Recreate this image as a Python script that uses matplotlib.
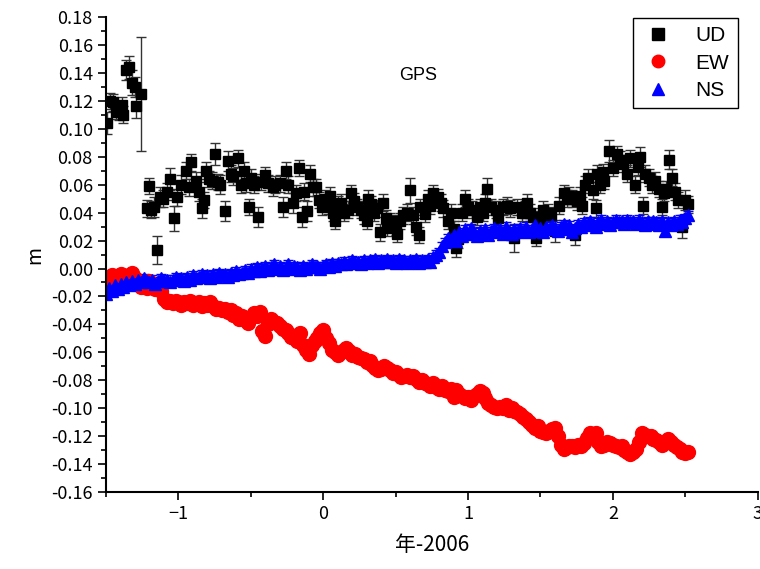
import matplotlib
matplotlib.use('Agg')
import matplotlib.pyplot as plt
from matplotlib.lines import Line2D
from matplotlib.ticker import MultipleLocator, FormatStrFormatter

plt.rcParams['font.family'] = ['Liberation Sans Narrow', 'Noto Sans CJK JP', 'DejaVu Sans']

# UD (垂直)
ud_t = [-1.49, -1.47, -1.45, -1.43, -1.41, -1.39, -1.38, -1.36, -1.34, -1.32,
        -1.30, -1.29, -1.26, -1.22, -1.20, -1.19, -1.17, -1.15, -1.13, -1.11,
        -1.08, -1.06, -1.03, -1.01, -0.98, -0.95, -0.93, -0.91, -0.88, -0.86,
        -0.84, -0.82, -0.81, -0.79, -0.77, -0.75, -0.73, -0.71, -0.68, -0.66,
        -0.64, -0.62, -0.59, -0.57, -0.55, -0.53, -0.51, -0.50, -0.48, -0.45,
        -0.43, -0.40, -0.38, -0.35, -0.33, -0.30, -0.28, -0.26, -0.24, -0.21,
        -0.19, -0.17, -0.15, -0.13, -0.11, -0.09, -0.07, -0.05, -0.03, -0.01,
        0.01, 0.03, 0.05, 0.07, 0.08, 0.10, 0.12, 0.14, 0.17, 0.19,
        0.21, 0.23, 0.26, 0.28, 0.30, 0.31, 0.33, 0.35, 0.37, 0.39,
        0.41, 0.43, 0.44, 0.46, 0.48, 0.50, 0.51, 0.53, 0.55, 0.58,
        0.60, 0.62, 0.64, 0.66, 0.67, 0.70, 0.72, 0.74, 0.76, 0.79,
        0.81, 0.83, 0.86, 0.88, 0.90, 0.92, 0.93, 0.96, 0.98, 1.00,
        1.03, 1.06, 1.08, 1.10, 1.12, 1.13, 1.16, 1.19, 1.21, 1.24,
        1.27, 1.29, 1.32, 1.34, 1.37, 1.39, 1.41, 1.43, 1.45, 1.47,
        1.50, 1.52, 1.55, 1.57, 1.60, 1.63, 1.66, 1.68, 1.70, 1.72,
        1.74, 1.75, 1.77, 1.79, 1.81, 1.83, 1.86, 1.88, 1.89, 1.91,
        1.93, 1.94, 1.97, 2.00, 2.03, 2.05, 2.07, 2.10, 2.12, 2.15,
        2.17, 2.19, 2.21, 2.22, 2.25, 2.27, 2.29, 2.32, 2.34, 2.35,
        2.37, 2.39, 2.41, 2.43, 2.45, 2.48, 2.50, 2.52]
ud = [0.104, 0.120, 0.119, 0.112, 0.113, 0.117, 0.110, 0.142, 0.144, 0.133,
      0.130, 0.116, 0.125, 0.043, 0.059, 0.042, 0.044, 0.013, 0.051, 0.050,
      0.055, 0.064, 0.036, 0.051, 0.060, 0.070, 0.058, 0.076, 0.063, 0.055,
      0.043, 0.049, 0.070, 0.064, 0.063, 0.082, 0.062, 0.060, 0.041, 0.077,
      0.068, 0.066, 0.079, 0.060, 0.070, 0.061, 0.044, 0.065, 0.060, 0.037,
      0.062, 0.067, 0.061, 0.058, 0.060, 0.061, 0.044, 0.070, 0.060, 0.047,
      0.054, 0.072, 0.037, 0.055, 0.041, 0.068, 0.058, 0.058, 0.049, 0.044,
      0.050, 0.045, 0.052, 0.040, 0.034, 0.046, 0.047, 0.040, 0.042, 0.054,
      0.048, 0.044, 0.042, 0.038, 0.034, 0.050, 0.046, 0.040, 0.043, 0.026,
      0.047, 0.036, 0.029, 0.034, 0.032, 0.030, 0.025, 0.034, 0.038, 0.040,
      0.056, 0.038, 0.030, 0.024, 0.044, 0.039, 0.050, 0.045, 0.054, 0.051,
      0.047, 0.043, 0.034, 0.040, 0.028, 0.015, 0.021, 0.040, 0.050, 0.044,
      0.042, 0.037, 0.044, 0.040, 0.047, 0.057, 0.044, 0.042, 0.036, 0.044,
      0.045, 0.043, 0.022, 0.044, 0.040, 0.042, 0.047, 0.040, 0.037, 0.022,
      0.035, 0.042, 0.040, 0.038, 0.027, 0.045, 0.054, 0.050, 0.052, 0.050,
      0.024, 0.048, 0.052, 0.045, 0.060, 0.065, 0.056, 0.043, 0.068, 0.060,
      0.069, 0.063, 0.084, 0.072, 0.082, 0.078, 0.075, 0.068, 0.079, 0.060,
      0.073, 0.080, 0.045, 0.068, 0.065, 0.060, 0.063, 0.057, 0.044, 0.054,
      0.057, 0.078, 0.065, 0.055, 0.049, 0.030, 0.049, 0.046]
ud_err = [0.008, 0.006, 0.006, 0.005, 0.007, 0.006, 0.006, 0.007, 0.008, 0.009,
          0.007, 0.008, 0.041, 0.006, 0.006, 0.006, 0.007, 0.010, 0.007, 0.006,
          0.006, 0.008, 0.009, 0.006, 0.007, 0.006, 0.006, 0.006, 0.006, 0.007,
          0.007, 0.006, 0.006, 0.006, 0.006, 0.008, 0.006, 0.007, 0.007, 0.007,
          0.006, 0.006, 0.006, 0.006, 0.006, 0.006, 0.006, 0.006, 0.006, 0.007,
          0.006, 0.006, 0.006, 0.006, 0.006, 0.006, 0.007, 0.006, 0.006, 0.007,
          0.006, 0.006, 0.007, 0.006, 0.007, 0.006, 0.006, 0.006, 0.006, 0.006,
          0.006, 0.006, 0.006, 0.006, 0.006, 0.006, 0.006, 0.006, 0.006, 0.006,
          0.006, 0.006, 0.006, 0.006, 0.006, 0.006, 0.006, 0.006, 0.006, 0.006,
          0.006, 0.006, 0.006, 0.006, 0.006, 0.006, 0.006, 0.006, 0.006, 0.006,
          0.009, 0.006, 0.006, 0.006, 0.006, 0.006, 0.006, 0.006, 0.006, 0.006,
          0.006, 0.006, 0.006, 0.006, 0.006, 0.007, 0.006, 0.006, 0.006, 0.006,
          0.006, 0.006, 0.006, 0.006, 0.006, 0.008, 0.006, 0.006, 0.006, 0.006,
          0.006, 0.006, 0.010, 0.006, 0.006, 0.006, 0.006, 0.006, 0.006, 0.006,
          0.006, 0.006, 0.006, 0.006, 0.008, 0.006, 0.006, 0.006, 0.006, 0.006,
          0.007, 0.006, 0.006, 0.006, 0.006, 0.006, 0.006, 0.006, 0.006, 0.006,
          0.006, 0.006, 0.008, 0.006, 0.006, 0.006, 0.006, 0.006, 0.006, 0.006,
          0.006, 0.007, 0.006, 0.006, 0.006, 0.006, 0.006, 0.006, 0.006, 0.006,
          0.006, 0.007, 0.006, 0.006, 0.006, 0.008, 0.007, 0.006]

# EW / NS はほぼ毎週 (0.02 年刻み)
t2 = [round(-1.50 + 0.02 * i, 2) for i in range(202)]
ew = [-0.006, -0.009, -0.005, -0.010, -0.007, -0.004, -0.008, -0.006, -0.005, -0.003,
      -0.007, -0.010, -0.013, -0.011, -0.014, -0.009, -0.012, -0.015, -0.013, -0.016,
      -0.022, -0.024, -0.023, -0.025, -0.023, -0.024, -0.026, -0.024, -0.025, -0.023,
      -0.026, -0.025, -0.024, -0.027, -0.025, -0.026, -0.024, -0.027, -0.029, -0.028,
      -0.030, -0.029, -0.031, -0.030, -0.033, -0.032, -0.036, -0.034, -0.037, -0.039,
      -0.035, -0.032, -0.034, -0.031, -0.045, -0.048, -0.040, -0.036, -0.038, -0.039,
      -0.041, -0.043, -0.044, -0.046, -0.049, -0.050, -0.052, -0.046, -0.055, -0.058,
      -0.061, -0.055, -0.052, -0.050, -0.046, -0.044, -0.050, -0.053, -0.058, -0.060,
      -0.062, -0.060, -0.058, -0.057, -0.059, -0.062, -0.061, -0.063, -0.064, -0.065,
      -0.067, -0.066, -0.069, -0.071, -0.073, -0.072, -0.070, -0.071, -0.073, -0.075,
      -0.074, -0.076, -0.078, -0.077, -0.076, -0.078, -0.077, -0.079, -0.081, -0.080,
      -0.082, -0.083, -0.084, -0.082, -0.085, -0.086, -0.084, -0.087, -0.088, -0.086,
      -0.092, -0.087, -0.090, -0.091, -0.093, -0.092, -0.094, -0.091, -0.090, -0.088,
      -0.089, -0.093, -0.096, -0.098, -0.099, -0.100, -0.099, -0.100, -0.098, -0.101,
      -0.100, -0.102, -0.103, -0.104, -0.106, -0.108, -0.110, -0.112, -0.114, -0.113,
      -0.116, -0.117, -0.118, -0.116, -0.115, -0.114, -0.120, -0.126, -0.129, -0.128,
      -0.127, -0.127, -0.128, -0.126, -0.127, -0.125, -0.121, -0.118, -0.119, -0.118,
      -0.124, -0.127, -0.126, -0.124, -0.125, -0.126, -0.127, -0.128, -0.127, -0.130,
      -0.131, -0.133, -0.131, -0.129, -0.124, -0.118, -0.119, -0.120, -0.120, -0.122,
      -0.123, -0.124, -0.126, -0.124, -0.122, -0.124, -0.126, -0.128, -0.129, -0.131,
      -0.132, -0.131]
ns = [-0.018, -0.014, -0.016, -0.012, -0.015, -0.011, -0.013, -0.010, -0.012, -0.009,
      -0.011, -0.008, -0.010, -0.007, -0.009, -0.010, -0.008, -0.011, -0.009, -0.007,
      -0.009, -0.008, -0.010, -0.008, -0.006, -0.008, -0.007, -0.009, -0.006, -0.008,
      -0.005, -0.007, -0.006, -0.004, -0.006, -0.005, -0.007, -0.004, -0.006, -0.003,
      -0.005, -0.004, -0.006, -0.003, -0.005, -0.002, -0.004, -0.003, -0.001, -0.003,
      0.000, -0.002, 0.001, -0.002, 0.000, 0.002, -0.001, 0.001, 0.003, 0.000,
      0.002, -0.001, 0.001, 0.003, 0.000, 0.002, 0.001, -0.001, 0.002, 0.000,
      0.001, 0.003, 0.001, 0.002, 0.000, 0.002, 0.003, 0.001, 0.004, 0.002,
      0.004, 0.003, 0.005, 0.003, 0.004, 0.006, 0.004, 0.005, 0.003, 0.006,
      0.004, 0.006, 0.005, 0.007, 0.004, 0.006, 0.005, 0.007, 0.005, 0.006,
      0.004, 0.007, 0.005, 0.006, 0.004, 0.006, 0.005, 0.007, 0.004, 0.006,
      0.005, 0.007, 0.005, 0.008, 0.010, 0.012, 0.016, 0.019, 0.022, 0.021,
      0.024, 0.020, 0.026, 0.023, 0.028, 0.025, 0.029, 0.026, 0.023, 0.027,
      0.025, 0.028, 0.024, 0.027, 0.029, 0.026, 0.028, 0.025, 0.030, 0.027,
      0.025, 0.028, 0.026, 0.029, 0.027, 0.030, 0.026, 0.028, 0.031, 0.027,
      0.029, 0.026, 0.030, 0.028, 0.031, 0.029, 0.027, 0.030, 0.032, 0.028,
      0.031, 0.026, 0.029, 0.032, 0.030, 0.033, 0.031, 0.034, 0.032, 0.030,
      0.033, 0.035, 0.032, 0.034, 0.031, 0.033, 0.035, 0.033, 0.034, 0.032,
      0.035, 0.033, 0.034, 0.032, 0.035, 0.033, 0.031, 0.034, 0.032, 0.034,
      0.033, 0.031, 0.034, 0.027, 0.033, 0.031, 0.034, 0.032, 0.035, 0.033,
      0.036, 0.038]
ew_err = 0.003
ns_err = 0.003

fig = plt.figure(figsize=(7.6, 5.69), dpi=100)
ax = fig.add_axes([0.1395, 0.1353, 0.8575, 0.8347])

ax.errorbar(ud_t, ud, yerr=ud_err, fmt='s', color='black', ms=7.5, ecolor='#333333',
            elinewidth=1, capsize=3.5, capthick=1)
ax.errorbar(t2, ew, yerr=ew_err, fmt='o', color='red', ms=10, ecolor='red',
            elinewidth=1, capsize=3.5, capthick=1)
ax.errorbar(t2, ns, yerr=ns_err, fmt='^', color='blue', ms=9, ecolor='blue',
            elinewidth=1, capsize=3.5, capthick=1)

ax.set_xlim(-1.5, 3)
ax.set_ylim(-0.16, 0.18)
ax.xaxis.set_major_locator(MultipleLocator(1))
ax.xaxis.set_minor_locator(MultipleLocator(0.5))
ax.yaxis.set_major_locator(MultipleLocator(0.02))
ax.yaxis.set_minor_locator(MultipleLocator(0.01))
ax.yaxis.set_major_formatter(FormatStrFormatter('%.2f'))
ax.tick_params(which='major', direction='out', length=6, width=1.2, labelsize=13)
ax.tick_params(which='minor', direction='out', length=3.5, width=1.2)
ax.spines['top'].set_visible(False)
ax.spines['right'].set_visible(False)
ax.spines['left'].set_linewidth(1.5)
ax.spines['bottom'].set_linewidth(1.5)

ax.set_xlabel('年-2006', fontsize=15, labelpad=8)
ax.set_ylabel('m', fontsize=14, labelpad=4)
ax.text(0.479, 0.878, 'GPS', transform=ax.transAxes, fontsize=13,
        ha='center', va='center', family=['Liberation Sans', 'DejaVu Sans'])

handles = [Line2D([], [], ls='none', marker='s', color='black', ms=8),
           Line2D([], [], ls='none', marker='o', color='red', ms=9),
           Line2D([], [], ls='none', marker='^', color='blue', ms=9)]
leg = ax.legend(handles, ['UD', 'EW', 'NS'], loc='upper right',
                bbox_to_anchor=(0.969, 0.998), borderaxespad=0, fancybox=False,
                edgecolor='black', framealpha=1, handletextpad=1.0,
                borderpad=0.4, labelspacing=0.4, handlelength=1.6,
                prop={'family': ['Liberation Sans', 'DejaVu Sans'], 'size': 15})
leg.get_frame().set_linewidth(1)

fig.savefig('out.png', dpi=100)
